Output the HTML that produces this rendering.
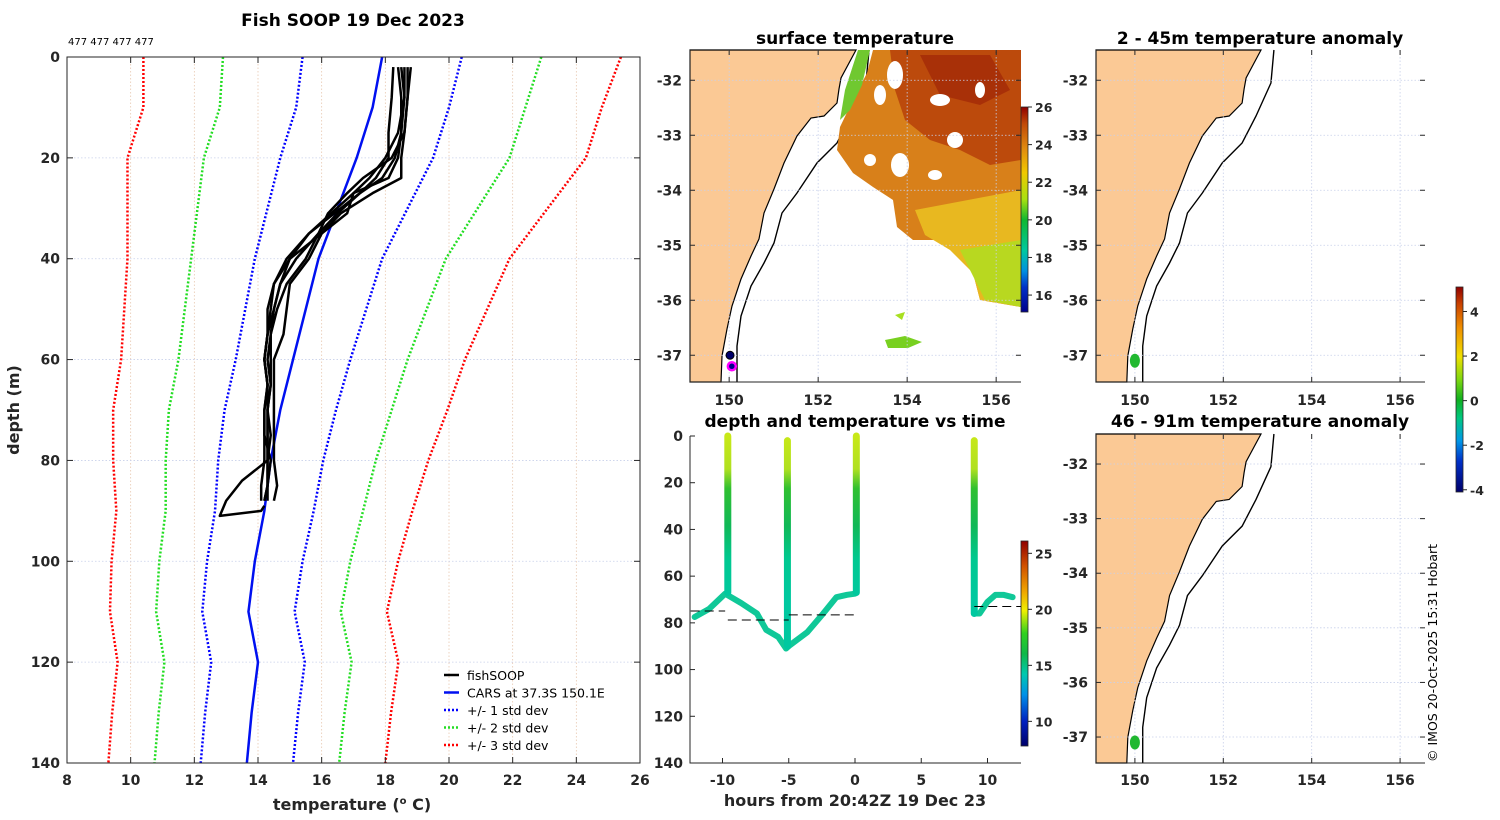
<!DOCTYPE html>
<html><head><meta charset="utf-8"><title>Fish SOOP 19 Dec 2023</title>
<style>
html,body{margin:0;padding:0;background:#fff;}
svg{display:block;font-family:"DejaVu Sans","Liberation Sans",sans-serif;}
.tk{font-size:14px;font-weight:bold;fill:#262626;}
.ttl{font-size:17px;font-weight:bold;fill:#000;}
.nb{font-weight:normal;fill:#000;}
</style></head>
<body>
<svg id="fig" width="1500" height="820" viewBox="0 0 1500 820" xmlns="http://www.w3.org/2000/svg">
<defs>
<linearGradient id="gSst" x1="0" y1="1" x2="0" y2="0">
<stop offset="0" stop-color="#00008a"/><stop offset="0.12" stop-color="#0030c8"/><stop offset="0.2" stop-color="#0090e0"/><stop offset="0.3" stop-color="#00c8a0"/><stop offset="0.45" stop-color="#10b830"/><stop offset="0.55" stop-color="#a8e010"/><stop offset="0.68" stop-color="#f0c800"/><stop offset="0.8" stop-color="#e08a10"/><stop offset="0.92" stop-color="#c04808"/><stop offset="1" stop-color="#900000"/>
</linearGradient>
<linearGradient id="gTime" x1="0" y1="1" x2="0" y2="0">
<stop offset="0" stop-color="#00006a"/><stop offset="0.12" stop-color="#0020c0"/><stop offset="0.25" stop-color="#0090e8"/><stop offset="0.35" stop-color="#00c8b0"/><stop offset="0.45" stop-color="#10b848"/><stop offset="0.55" stop-color="#30d020"/><stop offset="0.66" stop-color="#f0f000"/><stop offset="0.75" stop-color="#f0a800"/><stop offset="0.88" stop-color="#d05000"/><stop offset="1" stop-color="#900000"/>
</linearGradient>
<linearGradient id="gAnom" x1="0" y1="1" x2="0" y2="0">
<stop offset="0" stop-color="#00006a"/><stop offset="0.15" stop-color="#0030c8"/><stop offset="0.25" stop-color="#0098e8"/><stop offset="0.36" stop-color="#00c880"/><stop offset="0.45" stop-color="#10b020"/><stop offset="0.55" stop-color="#80d810"/><stop offset="0.66" stop-color="#f0e000"/><stop offset="0.8" stop-color="#f09000"/><stop offset="0.92" stop-color="#c84000"/><stop offset="1" stop-color="#900000"/>
</linearGradient>
<linearGradient id="gCast" gradientUnits="userSpaceOnUse" x1="0" y1="436" x2="0" y2="600">
<stop offset="0" stop-color="#c8e818"/><stop offset="0.2" stop-color="#b0e020"/><stop offset="0.32" stop-color="#30c030"/><stop offset="0.55" stop-color="#10b858"/><stop offset="0.75" stop-color="#00c890"/><stop offset="1" stop-color="#00c8a0"/>
</linearGradient>
<clipPath id="cpSst"><rect x="0" y="0" width="331" height="332"/></clipPath>
</defs>
</svg>
<script>
const NS='http://www.w3.org/2000/svg';
const fig=document.getElementById('fig');
function mk(tag,attrs,parent){const e=document.createElementNS(NS,tag);for(const k in attrs)e.setAttribute(k,attrs[k]);(parent||fig).appendChild(e);return e;}
function txt(s,x,y,cls,anchor,parent){const e=mk('text',{x:x,y:y,'class':cls||'tk','text-anchor':anchor||'middle'},parent);e.textContent=s;return e;}

/* ---------- data: profile panel ---------- */
const carsDepth=[0,10,20,30,40,50,60,70,80,90,100,110,120,130,140];
const carsMean=[17.9,17.6,17.1,16.5,15.9,15.5,15.1,14.7,14.4,14.2,13.9,13.7,14.0,13.8,13.65];
const carsStd=[2.5,2.4,2.4,2.2,2.0,1.9,1.8,1.75,1.65,1.55,1.5,1.45,1.47,1.46,1.45];
const stdMultipliers=[1,2,3];
const profDepth=[2,8,15,20,24,27,31,35,40,45,50,55,60,65,70,75,80,85,88];
const prof1=[18.25,18.2,18.1,18.1,17.7,17.2,16.5,15.9,15.5,14.9,14.6,14.4,14.3,14.4,14.3,14.4,14.3,14.3,14.2];
const prof2=[18.6,18.6,18.5,18.4,18.1,17.0,16.3,15.6,15.0,14.7,14.5,14.3,14.2,14.3,14.2,14.2,14.4,14.3,14.3];
const prof3=[18.7,18.7,18.6,18.2,17.3,16.8,16.2,15.9,15.2,14.7,14.5,14.4,14.4,14.4,14.3,14.3,14.3,14.3,14.2];
const prof4=[18.8,18.7,18.6,18.5,18.5,17.6,16.6,16.0,15.6,15.0,14.9,14.8,14.5,14.5,14.5,14.5,14.5,14.6,14.5];
const prof5=[18.5,18.6,18.4,18.0,17.5,17.0,16.8,16.0,15.0,14.5,14.4,14.3,14.2,14.3,14.2,14.2,14.2,14.1,14.1];
const prof6Depth=[2,8,15,20,24,27,31,35,40,45,50,55,60,65,70,75,80,84,88,91,90,89];
const prof6=[18.4,18.5,18.5,18.3,17.9,17.2,16.4,15.6,14.9,14.5,14.3,14.3,14.2,14.3,14.3,14.3,14.3,13.5,13.0,12.8,14.1,14.2];
const tempTicks=[8,10,12,14,16,18,20,22,24,26];
const depthTicks=[0,20,40,60,80,100,120,140];

/* ---------- data: time panel ---------- */
const castTimes=[-9.6,-5.1,0.1,9.0];
const castTops=[0,2,0,2];
const castBottoms=[67,90,67,76];
const trackHours=[-12.1,-11.0,-9.8,-8.6,-7.4,-6.7,-5.8,-5.2,-4.9,-3.6,-2.4,-1.4,-0.6,0.0];
const trackDepth=[77.5,74,67.5,71.5,76,83,86,91,89.5,84,76,69,68,67.5];
const track2Hours=[9.0,9.4,10.0,10.6,11.2,11.9];
const track2Depth=[76,76,71,68,68,69];
const dashStart=[-12.4,-9.6,-5.0,9.0];
const dashEnd=[-9.8,-5.0,0.2,12.6];
const dashDepth=[74.9,78.8,76.6,73];
const hourTicks=[-10,-5,0,5,10];
const timeCbTicks=[10,15,20,25];

/* ---------- data: maps ---------- */
const lonTicks=[150,152,154,156];
const latTicks=[-32,-33,-34,-35,-36,-37];
const sstTicks=[16,18,20,22,24,26];
const anomTicks=[-4,-2,0,2,4];
const shipLon=[150.02,150.06];
const shipLat=[-37.0,-37.2];

/* ===== Panel 1: profiles ===== */
const PX0=67,PX1=640,PY0=57,PY1=763;
const X=t=>PX0+(t-8)*(PX1-PX0)/18;
const Y=d=>PY0+d*(PY1-PY0)/140;
const g1=mk('g',{});


tempTicks.forEach(t=>{const l=mk('line',{x1:X(t),x2:X(t),y1:PY0,y2:PY1,stroke:'#e8c8b0','stroke-width':0.8,'stroke-dasharray':'1.5 2'},g1);

});
depthTicks.forEach(d=>{const l=mk('line',{x1:PX0,x2:PX1,y1:Y(d),y2:Y(d),stroke:'#c8d0ea','stroke-width':0.8,'stroke-dasharray':'1.5 2'},g1);

});
const stdColors=['#0000ff','#22dd22','#ff0000'];
stdMultipliers.forEach((k,i)=>{[1,-1].forEach(s=>{
 const pts=carsDepth.map((d,j)=>X(carsMean[j]+s*k*carsStd[j])+','+Y(d)).join(' ');
 const p=mk('polyline',{points:pts,fill:'none',stroke:stdColors[i],'stroke-width':2.5,'stroke-dasharray':'2 2'},g1);
 
 });});
const cars=mk('polyline',{points:carsDepth.map((d,j)=>X(carsMean[j])+','+Y(d)).join(' '),fill:'none',stroke:'#0010f0','stroke-width':2.5},g1);


[prof1,prof2,prof3,prof4,prof5].forEach((pr,i)=>{
 const p=mk('polyline',{points:profDepth.map((d,j)=>X(pr[j])+','+Y(d)).join(' '),fill:'none',stroke:'#000','stroke-width':2.5,'stroke-linejoin':'round'},g1);
 
 });
const p6=mk('polyline',{points:prof6Depth.map((d,j)=>X(prof6[j])+','+Y(d)).join(' '),fill:'none',stroke:'#000','stroke-width':2.5,'stroke-linejoin':'round'},g1);


mk('rect',{x:PX0,y:PY0,width:PX1-PX0,height:PY1-PY0,fill:'none',stroke:'#262626','stroke-width':1},g1);
tempTicks.forEach(t=>{mk('line',{x1:X(t),x2:X(t),y1:PY1,y2:PY1-6,stroke:'#262626'},g1);mk('line',{x1:X(t),x2:X(t),y1:PY0,y2:PY0+6,stroke:'#262626'},g1);
 const l=txt(String(t),X(t),785,'tk','middle',g1);
 
 });
depthTicks.forEach(d=>{mk('line',{x1:PX0,x2:PX0+6,y1:Y(d),y2:Y(d),stroke:'#262626'},g1);mk('line',{x1:PX1,x2:PX1-6,y1:Y(d),y2:Y(d),stroke:'#262626'},g1);
 const l=txt(String(d),60,Y(d)+5,'tk','end',g1);
 
 });
const t1=txt('Fish SOOP 19 Dec 2023',353,26,'ttl','middle',g1);


const cnt=txt('477 477 477 477',68,45,'nb','start',g1);cnt.setAttribute('style','font-size:10px');


const yl=mk('text',{x:0,y:0,'class':'tk','text-anchor':'middle',transform:'translate(19,410) rotate(-90)',style:'font-size:16px'},g1);yl.textContent='depth (m)';


const xl=mk('text',{x:352,y:810,'class':'tk','text-anchor':'middle',style:'font-size:16px'},g1);
xl.innerHTML='temperature (<tspan dy="-6" font-size="10">o</tspan><tspan dy="6"> C)</tspan>';


const leg=mk('g',{},g1);


const legLabels=['fishSOOP','CARS at 37.3S 150.1E','+/- 1 std dev','+/- 2 std dev','+/- 3 std dev'];
const legColors=['#000','#0010f0','#0000ff','#22dd22','#ff0000'];
legLabels.forEach((s,i)=>{const y=676+i*17.5;
 const ln=mk('line',{x1:444,x2:459,y1:y-1,y2:y-1,stroke:legColors[i],'stroke-width':2.5,'stroke-dasharray':i<2?'none':'2 2'},leg);
 
 
 const t=txt(s,467,y+4,'nb','start',leg);t.setAttribute('style','font-size:12.5px');
 
 });

/* ===== Maps ===== */
const coast=[[166,0],[151,28],[149,39],[147,53],[134,66],[121,68],[107,86],[94,113],[84,139],[74,163],[69,189],[61,206],[51,229],[42,256],[37,279],[32,306],[31,332]];
const shelf=[[179,0],[176,33],[161,66],[147,93],[127,113],[107,143],[92,163],[84,193],[74,213],[61,236],[51,266],[47,296],[47,332]];
function drawMap(name,x0,y0,w,h,lonX,latY,labelY){
 const g=mk('g',{});
 
 
 const inner=mk('g',{transform:'translate('+x0+','+y0+') scale('+(w/331)+','+(h/332)+')'},g);
 const land=mk('polygon',{points:'0,0 '+coast.map(p=>p.join(',')).join(' ')+' 0,332',fill:'#fbc995',stroke:'#000','stroke-width':1.2},inner);
 
 
 const sh=mk('polyline',{points:shelf.map(p=>p.join(',')).join(' '),fill:'none',stroke:'#000','stroke-width':1.4},inner);
 
 
 return {g:g,inner:inner,finish:function(){
  lonTicks.forEach(l=>{mk('line',{x1:lonX(l),x2:lonX(l),y1:y0,y2:y0+h,stroke:'#c8d0ea','stroke-width':0.8,'stroke-dasharray':'1.5 2'},g);
   mk('line',{x1:lonX(l),x2:lonX(l),y1:y0+h,y2:y0+h-5,stroke:'#262626'},g);mk('line',{x1:lonX(l),x2:lonX(l),y1:y0,y2:y0+5,stroke:'#262626'},g);
   const t=txt(String(l),lonX(l),labelY,'tk','middle',g);
   
   });
  latTicks.forEach(l=>{mk('line',{x1:x0,x2:x0+w,y1:latY(l),y2:latY(l),stroke:'#c8d0ea','stroke-width':0.8,'stroke-dasharray':'1.5 2'},g);
   mk('line',{x1:x0,x2:x0+5,y1:latY(l),y2:latY(l),stroke:'#262626'},g);mk('line',{x1:x0+w,x2:x0+w-5,y1:latY(l),y2:latY(l),stroke:'#262626'},g);
   const t=txt(String(l),x0-8,latY(l)+5,'tk','end',g);
   
   });
  mk('polyline',{points:x0+','+y0+' '+x0+','+(y0+h)+' '+(x0+w)+','+(y0+h),fill:'none',stroke:'#262626'},g);
 }};
}
function colorbar(name,x,y0,y1,grad,vmin,vmax,ticks){
 const g=mk('g',{});
 
 
 mk('rect',{x:x,y:y0,width:7,height:y1-y0,fill:'url(#'+grad+')',stroke:'#262626','stroke-width':0.8},g);
 const V=v=>y1-(v-vmin)*(y1-y0)/(vmax-vmin);
 ticks.forEach(v=>{mk('line',{x1:x+7,x2:x+11,y1:V(v),y2:V(v),stroke:'#262626'},g);
  const t=txt(String(v),x+14,V(v)+5,'tk','start',g);t.setAttribute('style','font-size:12.5px');
  
  });
 return g;
}

/* surface temperature map */
const sLon=l=>690+(l-149.12)*44.5, sLat=l=>50+(-31.45-l)*55;
const m1=drawMap('surface-temperature-map',690,50,331,332,sLon,sLat,405);
const sst=mk('g',{'clip-path':'url(#cpSst)'},m1.inner);


mk('polygon',{points:'183,0 177,23 163,50 150,77 147,100 163,123 183,137 203,150 207,177 223,190 253,190 267,203 283,223 290,250 331,257 331,0',fill:'#d8801a'},sst);
mk('polygon',{points:'200,0 331,0 331,110 300,115 270,100 240,90 215,70 205,40',fill:'#bc4a0c'},sst);
mk('polygon',{points:'230,5 300,5 320,40 290,55 250,45',fill:'#a83008'},sst);
mk('polygon',{points:'225,160 331,140 331,257 290,250 283,223 260,200 235,185',fill:'#e8b820'},sst);
mk('polygon',{points:'270,200 331,190 331,257 295,250',fill:'#b8d820'},sst);
mk('polygon',{points:'168,0 180,0 172,35 160,60 150,70 155,40',fill:'#70c830'},sst);
[[205,25,8,14],[190,45,6,10],[250,50,10,6],[265,90,8,8],[210,115,9,12],[290,40,5,8],[245,125,7,5],[180,110,6,6]].forEach(e=>mk('ellipse',{cx:e[0],cy:e[1],rx:e[2],ry:e[3],fill:'#fff'},sst));
mk('polygon',{points:'195,290 215,286 232,292 218,298 198,298',fill:'#78d020'},sst);
mk('polygon',{points:'205,265 215,262 212,270',fill:'#a8e020'},sst);
m1.finish();
const t2=txt('surface temperature',855,44,'ttl','middle');


shipLat.forEach((la,i)=>{const c=mk('circle',{cx:sLon(shipLon[i]),cy:sLat(la),r:4,fill:i?'#00008a':'#00006a',stroke:i?'#ff00ff':'#000','stroke-width':i?2.5:1});
 
 });
colorbar('sst-colorbar',1021,107,312,'gSst',15.1,26,sstTicks);

/* anomaly maps */
const rLon=l=>1096+(l-149.12)*44.2;
const m2=drawMap('anomaly-map-2-45m',1096,50,329,332,rLon,l=>50+(-31.45-l)*55,405);m2.finish();
const m3=drawMap('anomaly-map-46-91m',1096,434,329,329,rLon,l=>434+(-31.45-l)*54.6,785);m3.finish();
[[rLon(150.0),50+5.65*55],[rLon(150.0),434+5.65*54.6]].forEach(p=>{const c=mk('ellipse',{cx:p[0],cy:p[1],rx:5,ry:7,fill:'#20b830'});
 
 });
const t3=txt('2 - 45m temperature anomaly',1260,44,'ttl','middle');


const t4=txt('46 - 91m temperature anomaly',1260,427,'ttl','middle');


colorbar('anomaly-colorbar',1456,287,492,'gAnom',-4.1,5.1,anomTicks);

/* ===== time panel ===== */
const TX0=690,TX1=1021,TY0=436,TY1=763;
const H=h=>855+h*13.25, D=d=>TY0+d*(TY1-TY0)/140;
const g5=mk('g',{});


const tr1=mk('polyline',{points:trackHours.map((h,i)=>H(h)+','+D(trackDepth[i])).join(' '),fill:'none',stroke:'#10c898','stroke-width':6,'stroke-linejoin':'round','stroke-linecap':'round'},g5);


const tr2=mk('polyline',{points:track2Hours.map((h,i)=>H(h)+','+D(track2Depth[i])).join(' '),fill:'none',stroke:'#10c898','stroke-width':6,'stroke-linejoin':'round','stroke-linecap':'round'},g5);


castTimes.forEach((h,i)=>{const c=mk('line',{x1:H(h),x2:H(h)+0.01,y1:D(castTops[i]),y2:D(castBottoms[i]),stroke:'url(#gCast)','stroke-width':7,'stroke-linecap':'round'},g5);
 
 });
dashStart.forEach((s,i)=>{const l=mk('line',{x1:H(s),x2:H(dashEnd[i]),y1:D(dashDepth[i]),y2:D(dashDepth[i]),stroke:'#000','stroke-width':1,'stroke-dasharray':'9 5'},g5);
 
 });
mk('polyline',{points:TX0+','+TY0+' '+TX0+','+TY1+' '+TX1+','+TY1,fill:'none',stroke:'#262626'},g5);
hourTicks.forEach(h=>{mk('line',{x1:H(h),x2:H(h),y1:TY1,y2:TY1-5,stroke:'#262626'},g5);
 const t=txt(String(h),H(h),785,'tk','middle',g5);
 
 });
depthTicks.forEach(d=>{mk('line',{x1:TX0,x2:TX0+5,y1:D(d),y2:D(d),stroke:'#262626'},g5);
 const t=txt(String(d),683,D(d)+5,'tk','end',g5);
 
 });
const t5=txt('depth and temperature vs time',855,427,'ttl','middle');


const t6=txt('hours from 20:42Z 19 Dec 23',855,806,'tk','middle');t6.setAttribute('style','font-size:16px');


colorbar('time-colorbar',1021,541,746,'gTime',7.8,26.1,timeCbTicks);

const cp=mk('text',{x:0,y:0,'text-anchor':'start',transform:'translate(1437,762) rotate(-90)',style:'font-size:12.5px;fill:#000'});
cp.textContent='© IMOS 20-Oct-2025 15:31 Hobart';


</script>
</body></html>
